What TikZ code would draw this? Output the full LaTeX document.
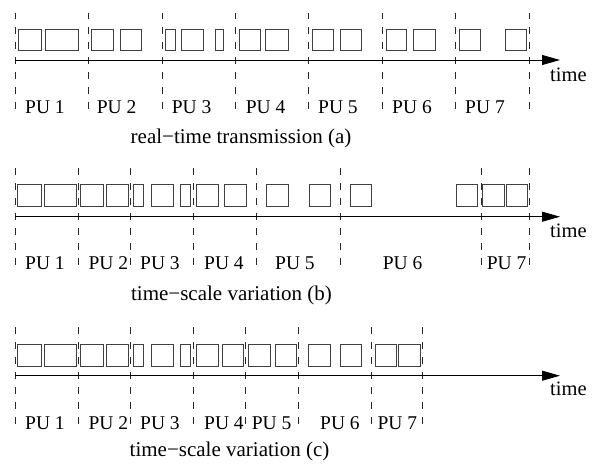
\documentclass[tikz,border=0pt]{standalone}
\usepackage{fontspec}
\setmainfont{Liberation Serif}
\usetikzlibrary{arrows.meta}
\tikzset{
 pubox/.style={draw=black!75, line width=0.9pt},
 sep/.style={draw=black!85, line width=0.8pt, dash pattern=on 7pt off 8pt, dash phase=3.5pt},
 axisline/.style={draw=black, line width=0.9pt, -{Triangle[length=18pt,width=10pt]}},
 pulabel/.style={anchor=base west, inner sep=0pt, font=\fontsize{19.5}{20}\selectfont},
 timelabel/.style={anchor=base west, inner sep=0pt, font=\fontsize{20.5}{21}\selectfont},
 caption/.style={anchor=base, inner sep=0pt, font=\fontsize{21}{22}\selectfont},
}
\begin{document}
\begin{tikzpicture}[x=1pt,y=-1pt]
\useasboundingbox (0,0) rectangle (600,469);
% ---------- row (a)
\foreach \x [count=\i] in {15,88.3,162,235.5,308.8,382.3,455.7,529}{
  \coordinate (a-top-\i) at (\x,13);
  \coordinate (a-ax-\i) at (\x,60);
  \coordinate (a-bot-\i) at (\x,112);
  \draw[sep] (a-ax-\i) -- (a-top-\i);
  \draw[sep] (a-ax-\i) -- (a-bot-\i);
}
\foreach \l/\r in {18.3/41.7,45.7/78.3,91.7/113.3,120/141.7,165.7/175,181.7/203.3,215/223.3,239/260,265/288,312.7/333.3,340/361.7,386/406.7,413.3/435,459/480,505/526}
  \draw[pubox] (\l,29) rectangle (\r,50);
\coordinate (a-end) at (560,60);
\draw[axisline] (a-ax-1) -- (a-end);
\node[timelabel] (a-time) at (550,81.7) {time};
\foreach \x [count=\i] in {25,96.7,171.7,245.7,318,392,465}
  \node[pulabel] (a-pu-\i) at (\x,113) {PU \i};
\node[caption] (a-cap) at (241,143) {real−time transmission (a)};
% ---------- row (b)
\foreach \x [count=\i] in {15,78.3,130,193.3,256.7,340,481,529}{
  \coordinate (b-top-\i) at (\x,163);
  \coordinate (b-ax-\i) at (\x,216.7);
  \coordinate (b-bot-\i) at (\x,268);
  \draw[sep] (b-ax-\i) -- (b-top-\i);
  \draw[sep] (b-ax-\i) -- (b-bot-\i);
}
\foreach \l/\r in {17.3/41.7,44.3/76,80/103.3,106/128.3,133.3/143.3,151.7/173.3,180/190.7,196/218.3,224/246.7,266/288,309.3/330,350/371.7,456/477.3,482.7/504,506.7/527.3}
  \draw[pubox] (\l,184) rectangle (\r,206);
\coordinate (b-end) at (560,216.7);
\draw[axisline] (b-ax-1) -- (b-end);
\node[timelabel] (b-time) at (550,237.3) {time};
\foreach \x [count=\i] in {25,88.3,140,204,275,382.7,486.7}
  \node[pulabel] (b-pu-\i) at (\x,269.3) {PU \i};
\node[caption] (b-cap) at (231.5,300.7) {time−scale variation (b)};
% ---------- row (c)
\foreach \x [count=\i] in {15,78.3,130,193.3,245.7,298.3,371.7,422.7}{
  \coordinate (c-top-\i) at (\x,323);
  \coordinate (c-ax-\i) at (\x,375.7);
  \coordinate (c-bot-\i) at (\x,427);
  \draw[sep] (c-ax-\i) -- (c-top-\i);
  \draw[sep] (c-ax-\i) -- (c-bot-\i);
}
\foreach \l/\r in {17.3/41.7,44.3/76,80/103.3,106/128.3,133.3/143.3,151.7/173.3,180/190.7,196/218.3,222.7/243.3,248.3/270,275/296,308.3/330,340/361.7,375/396.7,398.3/420}
  \draw[pubox] (\l,344) rectangle (\r,366);
\coordinate (c-end) at (560,375.7);
\draw[axisline] (c-ax-1) -- (c-end);
\node[timelabel] (c-time) at (550,395) {time};
\foreach \x [count=\i] in {25,88.3,140,204,251.7,320,377.3}
  \node[pulabel] (c-pu-\i) at (\x,429.3) {PU \i};
\node[caption] (c-cap) at (229.5,456.7) {time−scale variation (c)};
\end{tikzpicture}
\end{document}
